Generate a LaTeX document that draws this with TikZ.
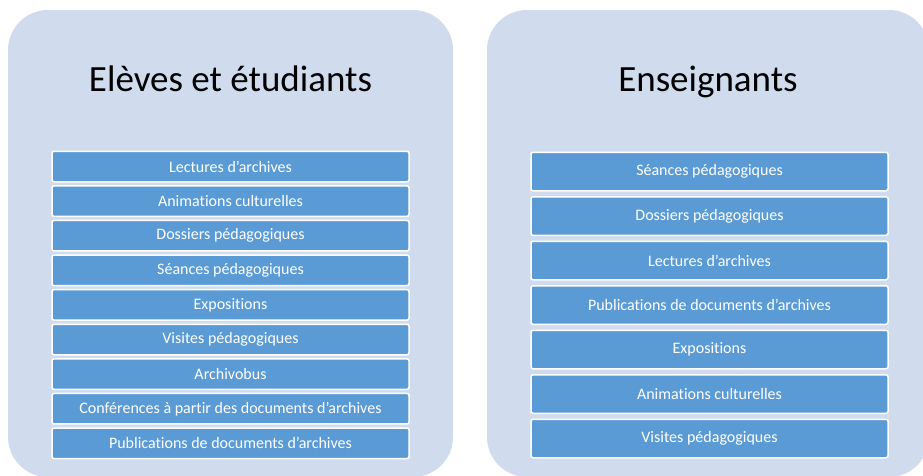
\documentclass[tikz,border=0pt]{standalone}
\usepackage{fontspec}
\setmainfont{Carlito}[Ligatures={NoCommon}]
\definecolor{panel}{HTML}{D0DCEE}
\definecolor{itembox}{HTML}{5B9BD5}
\begin{document}
\begin{tikzpicture}[x=1pt,y=-1pt,
  panelbox/.style={fill=panel,draw=none,rounded corners=40pt},
  title/.style={font=\fontsize{37}{41}\selectfont,text=black,anchor=base},
  itemL/.style={draw=white,line width=1.5pt,fill=itembox,rounded corners=2pt,minimum width=357pt,minimum height=30.5pt,inner sep=0pt,text=white,font=\fontsize{16}{18}\selectfont},
  itemR/.style={itemL,minimum height=38.5pt}]
\useasboundingbox (0,0) rectangle (923,475);
\begin{scope}
\clip (0,0) rectangle (923,475);
\fill[panelbox] (8,10) rectangle (453,477);
\fill[panelbox] (487,10) rectangle (929,477);
\end{scope}
\node[title] (tL) at (230.5,91) {Elèves et étudiants};
\node[title] (tR) at (708,91) {Enseignants};
\foreach \t [count=\i] in {Lectures d’archives,Animations culturelles,Dossiers pédagogiques,Séances pédagogiques,Expositions,Visites pédagogiques,Archivobus,Conférences à partir des documents d’archives,Publications de documents d’archives}{
  \node[itemL] (L\i) at (230.5,{166.5+34.6*(\i-1)}) {\t};
}
\foreach \t [count=\i] in {Séances pédagogiques,Dossiers pédagogiques,Lectures d’archives,Publications de documents d’archives,Expositions,Animations culturelles,Visites pédagogiques}{
  \node[itemR] (R\i) at (709.5,{171.5+44.5*(\i-1)}) {\t};
}
\end{tikzpicture}
\end{document}
